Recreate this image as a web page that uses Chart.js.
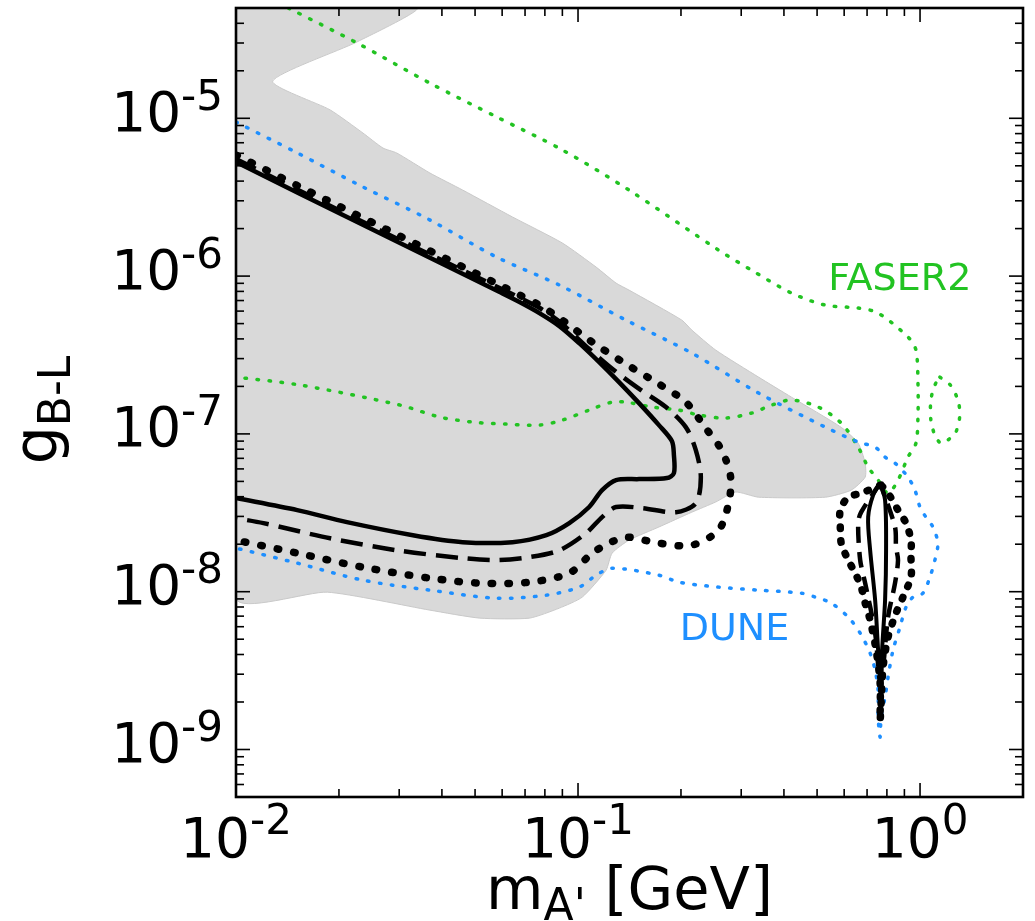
<!DOCTYPE html>
<html>
<head>
<meta charset="utf-8">
<script src="https://cdn.jsdelivr.net/npm/chart.js@4.4.1/dist/chart.umd.min.js"></script>
<style>
  html, body { margin: 0; padding: 0; background: #fff; }
  canvas { display: block; }
</style>
</head>
<body>
<canvas id="gbl" width="1035" height="921"></canvas>
<script>
// axes
const xRange = [0.01, 2];
const yRange = [5e-10, 5e-5];
const xDecades = [0.01, 0.1, 1];
const xDecadeExps = ['-2', '-1', '0'];
const yDecades = [1e-9, 1e-8, 1e-7, 1e-6, 1e-5];
const yDecadeExps = ['-9', '-8', '-7', '-6', '-5'];

// grey excluded region, [m_A' GeV, g_B-L]
const excluded = [
  [0.01, 5e-5], [0.0338, 5e-5], [0.0226, 3.05e-5], [0.0128, 1.72e-5], [0.01885, 1.13e-5],
  [0.0235, 8.07e-6], [0.0269, 6.48e-6], [0.0295, 6.03e-6], [0.0369, 4.5e-6], [0.046, 3.51e-6],
  [0.0643, 2.37e-6], [0.09, 1.62e-6], [0.113, 1.14e-6], [0.1292, 9.03e-7], [0.1409, 8.16e-7],
  [0.2012, 5.26e-7], [0.2151, 4.55e-7], [0.2526, 3.4e-7], [0.3372, 2.29e-7], [0.4207, 1.71e-7],
  [0.5884, 1.1e-7], [0.6593, 8.74e-8], [0.6911, 6.53e-8], [0.6911, 5.32e-8], [0.6291, 4.4e-8],
  [0.5284, 3.97e-8], [0.3372, 3.97e-8], [0.2889, 4.28e-8], [0.2526, 3.7e-8], [0.2151, 3.19e-8],
  [0.1724, 2.57e-8], [0.1409, 2.12e-8], [0.1258, 1.755e-8], [0.1208, 1.369e-8], [0.1029, 9.24e-9],
  [0.0882, 7.87e-9], [0.0721, 6.8e-9], [0.0516, 6.8e-9], [0.0369, 7.64e-9], [0.0185, 9.93e-9],
  [0.01, 9.1e-9], [0.01, 5e-5]
];

// FASER2 reach
const faser2 = [
  [0.01422, 5e-5], [0.0226, 3.0e-5], [0.0369, 1.67e-5], [0.0578, 1.02e-5], [0.09, 6.3e-6],
  [0.1409, 3.51e-6], [0.2578, 1.46e-6], [0.3217, 1.09e-6], [0.4207, 7.81e-7], [0.5284, 6.55e-7],
  [0.6593, 6.27e-7], [0.7541, 5.83e-7], [0.9221, 4.11e-7], [0.9728, 3.4e-7], [0.9861, 2.1e-7],
  [0.9861, 1.28e-7], [0.9728, 8.74e-8], [0.9221, 7.13e-8], [0.8622, 5.1e-8], [0.8063, 4.21e-8],
  [0.7541, 5.1e-8], [0.7052, 6.16e-8], [0.6593, 8.25e-8], [0.5884, 1.17e-7], [0.5041, 1.48e-7],
  [0.4207, 1.64e-7], [0.3679, 1.52e-7], [0.3217, 1.355e-7], [0.2701, 1.26e-7], [0.2254, 1.316e-7],
  [0.1972, 1.416e-7], [0.1645, 1.479e-7], [0.1381, 1.59e-7], [0.1258, 1.59e-7], [0.1078, 1.416e-7],
  [0.09, 1.223e-7], [0.0771, 1.137e-7], [0.0618, 1.153e-7], [0.0492, 1.188e-7], [0.0394, 1.278e-7],
  [0.0302, 1.522e-7], [0.0154, 2.04e-7], [0.01, 2.29e-7]
];
const faser2Island = [
  [1.1427, 2.29e-7], [1.2264, 2.04e-7], [1.2897, 1.64e-7], [1.3071, 1.316e-7], [1.2726, 1.026e-7],
  [1.2061, 9.14e-8], [1.1504, 8.74e-8], [1.1052, 9.83e-8], [1.0757, 1.223e-7], [1.0757, 1.64e-7],
  [1.1052, 2.04e-7], [1.1427, 2.29e-7]
];

// DUNE reach
const dune = [
  [0.01, 9.47e-6], [0.01511, 6.03e-6], [0.02352, 3.67e-6], [0.03686, 2.27e-6], [0.05777, 1.32e-6],
  [0.0882, 8.77e-7], [0.1381, 5.26e-7], [0.2151, 3.25e-7], [0.3372, 1.814e-7], [0.5284, 1.104e-7],
  [0.6593, 8.87e-8], [0.7391, 8.25e-8], [0.7903, 7.13e-8], [0.845, 6.53e-8], [0.9221, 5.32e-8],
  [0.9663, 4.4e-8], [0.9994, 3.44e-8], [1.04, 2.97e-8], [1.0904, 2.57e-8], [1.1275, 2.03e-8],
  [1.1052, 1.585e-8], [1.0686, 1.237e-8], [1.0197, 9.79e-9], [0.9535, 9.24e-9], [0.9097, 7.98e-9],
  [0.8738, 5.96e-9], [0.8336, 4.26e-9], [0.8063, 2.87e-9], [0.7903, 2.15e-9], [0.7694, 1.6e-9],
  [0.7643, 1.197e-9], [0.7541, 1.6e-9], [0.7541, 2.38e-9], [0.7391, 3.18e-9], [0.7147, 4.08e-9],
  [0.6683, 5.46e-9], [0.6166, 6.9e-9], [0.5503, 8.46e-9], [0.4941, 9.24e-9], [0.4499, 9.79e-9],
  [0.3372, 1.023e-8], [0.2578, 1.069e-8], [0.1972, 1.149e-8], [0.1724, 1.273e-8], [0.1258, 1.41e-8],
  [0.113, 1.273e-8], [0.1008, 1.069e-8], [0.0808, 9.51e-9], [0.0578, 9.1e-9], [0.0369, 1.023e-8],
  [0.0235, 1.183e-8], [0.0151, 1.517e-8], [0.01, 1.89e-8]
];

// black contours: solid, dashed, dotted (main band + resonance loop)
const solidMain = [
  [0.01, 5.28e-6], [0.01541, 3.31e-6], [0.03015, 1.62e-6], [0.059, 7.92e-7], [0.06743, 6.85e-7],
  [0.0771, 5.83e-7], [0.0882, 4.82e-7], [0.1008, 3.76e-7], [0.1153, 2.85e-7], [0.1318, 2.13e-7],
  [0.1508, 1.567e-7], [0.1724, 1.137e-7], [0.1881, 9.01e-8], [0.1907, 7.34e-8], [0.1907, 5.64e-8],
  [0.1819, 5.25e-8], [0.1508, 5.17e-8], [0.1292, 5.1e-8], [0.1176, 4.4e-8], [0.1078, 3.44e-8],
  [0.0943, 2.72e-8], [0.0808, 2.28e-8], [0.0643, 2.06e-8], [0.046, 2.06e-8], [0.0329, 2.28e-8],
  [0.0211, 2.76e-8], [0.0151, 3.29e-8], [0.01, 3.92e-8]
];
const solidLoop = [
  [0.7643, 4.88e-8], [0.7903, 3.8e-8], [0.7956, 1.83e-8], [0.7903, 8.84e-9], [0.7746, 4.26e-9],
  [0.7694, 2.38e-9], [0.7541, 4.26e-9], [0.7391, 8.84e-9], [0.7147, 1.83e-8], [0.7052, 2.97e-8],
  [0.7292, 4.09e-8], [0.7643, 4.88e-8]
];
const dashedMain = [
  [0.01, 5.52e-6], [0.01541, 3.46e-6], [0.03015, 1.693e-6], [0.059, 8.4e-7], [0.06743, 7.3e-7],
  [0.0771, 6.3e-7], [0.0882, 5.15e-7], [0.1078, 3.45e-7], [0.1275, 2.53e-7], [0.1528, 1.894e-7],
  [0.1807, 1.479e-7], [0.2066, 1.104e-7], [0.221, 7.89e-8], [0.2286, 5.32e-8], [0.221, 3.64e-8],
  [0.1933, 3.19e-8], [0.1538, 3.39e-8], [0.1292, 3.44e-8], [0.1176, 2.97e-8], [0.1056, 2.35e-8],
  [0.0882, 1.83e-8], [0.0721, 1.656e-8], [0.0578, 1.585e-8], [0.046, 1.632e-8], [0.0295, 1.83e-8],
  [0.01885, 2.18e-8], [0.01203, 2.72e-8], [0.01, 2.92e-8]
];
const dashedLoop = [
  [0.7643, 4.88e-8], [0.6728, 3.19e-8], [0.6593, 2.72e-8], [0.6683, 1.585e-8], [0.6911, 1.133e-8],
  [0.7391, 5.46e-9], [0.7643, 2.63e-9], [0.7798, 3.32e-9], [0.8063, 6.9e-9], [0.845, 1.133e-8],
  [0.8622, 1.585e-8], [0.8507, 1.92e-8], [0.845, 2.57e-8], [0.7643, 4.88e-8]
];
const dottedMain = [
  [0.01, 5.85e-6], [0.01541, 3.67e-6], [0.03015, 1.794e-6], [0.059, 8.77e-7], [0.06743, 7.6e-7],
  [0.0771, 6.55e-7], [0.0882, 5.42e-7], [0.11, 3.82e-7], [0.1381, 2.77e-7], [0.1724, 2.07e-7],
  [0.2066, 1.59e-7], [0.2362, 1.088e-7], [0.263, 7.89e-8], [0.2794, 5.32e-8], [0.2756, 3.64e-8],
  [0.2578, 2.46e-8], [0.2151, 1.97e-8], [0.1724, 2.03e-8], [0.1381, 2.22e-8], [0.1233, 2.03e-8],
  [0.11, 1.755e-8], [0.0943, 1.311e-8], [0.0721, 1.149e-8], [0.0516, 1.133e-8], [0.0369, 1.219e-8],
  [0.0235, 1.43e-8], [0.0151, 1.755e-8], [0.01, 2.12e-8]
];
const dottedLoop = [
  [0.7694, 4.74e-8], [0.6728, 4.21e-8], [0.6166, 3.97e-8], [0.5845, 3.29e-8], [0.5845, 2.57e-8],
  [0.5884, 2.03e-8], [0.6166, 1.585e-8], [0.6462, 1.311e-8], [0.6728, 1.069e-8], [0.6911, 8.46e-9],
  [0.7147, 6.6e-9], [0.744, 4.26e-9], [0.7643, 2.63e-9], [0.7643, 1.534e-9], [0.7694, 1.97e-9],
  [0.7798, 3.32e-9], [0.8063, 5.15e-9], [0.8507, 7.31e-9], [0.8916, 9.24e-9], [0.9408, 1.237e-8],
  [0.9408, 1.656e-8], [0.9408, 2.12e-8], [0.9097, 2.72e-8], [0.8622, 3.29e-8], [0.8063, 4.21e-8],
  [0.7694, 4.74e-8]
];

// experiment labels
const expNames = ['FASER2', 'DUNE'];
const expAtM = [0.539, 0.1984];
const expAtG = [8.22e-7, 4.93e-9];
const expColors = ['#22c322', '#1e8fff'];

const GREEN = '#22c322';
const BLUE = '#1e8fff';
const FONT = '"DejaVu Sans", "Liberation Sans", sans-serif';

function pts(arr) {
  return arr.map(p => ({ x: p[0], y: p[1] }));
}

function curve(arr, color, width, dash, cap, order) {
  return {
    data: pts(arr),
    showLine: true,
    borderColor: color,
    borderWidth: width,
    borderDash: dash,
    borderCapStyle: cap,
    borderJoinStyle: 'round',
    pointRadius: 0,
    fill: false,
    tension: 0.3,
    order: order
  };
}

function power(ctx, exp, x, base, align, size, supSize, rise) {
  ctx.font = size + 'px ' + FONT;
  const w1 = ctx.measureText('10').width;
  ctx.font = supSize + 'px ' + FONT;
  const w2 = ctx.measureText(exp).width;
  const x0 = align === 'right' ? x - w1 - w2 : x - (w1 + w2) / 2;
  ctx.textAlign = 'left';
  ctx.textBaseline = 'alphabetic';
  ctx.font = size + 'px ' + FONT;
  ctx.fillText('10', x0, base);
  ctx.font = supSize + 'px ' + FONT;
  ctx.fillText(exp, x0 + w1, base - rise);
}

// draws "parts" = [text, size, drop] centered on x
function mixed(ctx, parts, cx, base) {
  let total = 0;
  parts.forEach(p => { ctx.font = p[1] + 'px ' + FONT; total += ctx.measureText(p[0]).width; });
  let x0 = cx - total / 2;
  ctx.textAlign = 'left';
  ctx.textBaseline = 'alphabetic';
  parts.forEach(p => {
    ctx.font = p[1] + 'px ' + FONT;
    ctx.fillText(p[0], x0, base + p[2]);
    x0 += ctx.measureText(p[0]).width;
  });
}

const mplAxes = {
  id: 'mplAxes',
  afterDatasetsDraw(chart) {
    const { ctx, chartArea: a, scales } = chart;
    const sx = scales.x, sy = scales.y;
    ctx.save();

    // experiment names
    expNames.forEach((name, i) => {
      ctx.fillStyle = expColors[i];
      ctx.font = '38px ' + FONT;
      ctx.textAlign = 'left';
      ctx.textBaseline = 'alphabetic';
      ctx.fillText(name, sx.getPixelForValue(expAtM[i]), sy.getPixelForValue(expAtG[i]));
    });

    // inward ticks on all four sides
    ctx.strokeStyle = '#000';
    ctx.lineWidth = 1.6;
    function seg(x1, y1, x2, y2) {
      ctx.beginPath(); ctx.moveTo(x1, y1); ctx.lineTo(x2, y2); ctx.stroke();
    }
    for (let e = -3; e <= 1; e++) {
      for (let k = 1; k <= 9; k++) {
        const v = k * Math.pow(10, e);
        if (v < xRange[0] * 0.999 || v > xRange[1] * 1.001) continue;
        const px = sx.getPixelForValue(v);
        const len = k === 1 ? 14 : 8;
        seg(px, a.bottom, px, a.bottom - len);
        seg(px, a.top, px, a.top + len);
      }
    }
    for (let e = -10; e <= -5; e++) {
      for (let k = 1; k <= 9; k++) {
        const v = k * Math.pow(10, e);
        if (v < yRange[0] * 0.999 || v > yRange[1] * 1.001) continue;
        const py = sy.getPixelForValue(v);
        const len = k === 1 ? 14 : 8;
        seg(a.left, py, a.left + len, py);
        seg(a.right, py, a.right - len, py);
      }
    }

    // frame
    ctx.lineWidth = 2.6;
    ctx.strokeRect(a.left, a.top, a.right - a.left, a.bottom - a.top);

    // tick labels
    ctx.fillStyle = '#000';
    xDecades.forEach((v, i) => {
      power(ctx, xDecadeExps[i], sx.getPixelForValue(v), 857, 'center', 55, 42, 23);
    });
    yDecades.forEach((v, i) => {
      power(ctx, yDecadeExps[i], 223, sy.getPixelForValue(v) + 12.5, 'right', 55, 42, 21);
    });

    // axis titles
    mixed(ctx, [['m', 59, 0], ["A'", 44, 11], [' [GeV]', 59, 0]], (a.left + a.right) / 2, 909);
    ctx.save();
    ctx.translate(56, 410);
    ctx.rotate(-Math.PI / 2);
    mixed(ctx, [['g', 60, 0], ['B-L', 44, 14]], 0, 0);
    ctx.restore();

    ctx.restore();
  }
};

new Chart(document.getElementById('gbl'), {
  type: 'scatter',
  data: {
    datasets: [
      {
        data: pts(excluded),
        showLine: true,
        borderColor: '#c9c9c9',
        borderWidth: 1,
        backgroundColor: '#d9d9d9',
        fill: 'shape',
        pointRadius: 0,
        tension: 0.2,
        order: 10
      },
      curve(faser2, GREEN, 3.5, [1.5, 10.5], 'round', 5),
      curve(faser2Island, GREEN, 3.5, [1.5, 10.5], 'round', 5),
      curve(dune, BLUE, 3.5, [1.5, 10.5], 'round', 4),
      curve(dottedMain, '#000', 7.5, [1.5, 15.2], 'round', 3),
      curve(dottedLoop, '#000', 7.5, [1.5, 12], 'round', 3),
      curve(dashedMain, '#000', 4.5, [22, 10], 'butt', 2),
      curve(dashedLoop, '#000', 4.5, [16, 9], 'butt', 2),
      curve(solidMain, '#000', 4.5, [], 'butt', 1),
      curve(solidLoop, '#000', 4, [], 'butt', 1)
    ]
  },
  options: {
    responsive: false,
    animation: false,
    events: [],
    layout: { padding: { left: 236, right: 12, top: 8, bottom: 124 } },
    scales: {
      x: { type: 'logarithmic', min: xRange[0], max: xRange[1], display: false },
      y: { type: 'logarithmic', min: yRange[0], max: yRange[1], display: false }
    },
    plugins: {
      legend: { display: false },
      tooltip: { enabled: false }
    }
  },
  plugins: [mplAxes]
});
</script>
</body>
</html>
